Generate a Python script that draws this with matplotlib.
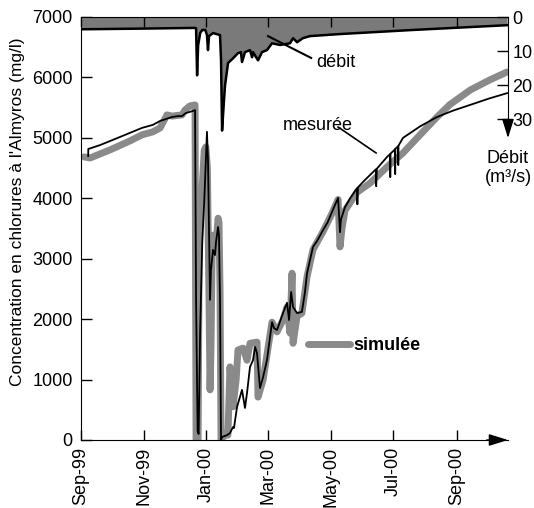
import matplotlib.pyplot as plt
import matplotlib.dates as mdates
import matplotlib.transforms as mtransforms
import numpy as np
import pandas as pd

plt.rcParams['font.family'] = ['Liberation Sans', 'DejaVu Sans']
plt.rcParams['font.size'] = 13

# jours depuis le 1er septembre 1999
mes_jours = [7.0, 7.1, 18.5, 38, 59.4, 70, 77, 88.6, 94.4, 98.3, 102, 109, 111,
             112, 113.5, 114.5, 116, 118, 120, 122.6, 123.6, 125.6, 126.5, 128.5,
             130.4, 131.4, 133.4, 134.3, 135.3, 136.3, 137.3, 142.1, 145, 148,
             148.9, 151.9, 153.8, 156.7, 159.6, 161.6, 164.5, 167.4, 169.4, 171.3,
             174.2, 177.2, 181, 185.9, 187.9, 190.8, 196.6, 200.5, 202.5, 204.5,
             206.4, 210.3, 215, 218, 220, 225.8, 230, 235.6, 240, 244.3, 250.2,
             252.1, 253, 257, 262, 268.7, 269, 269.5, 275, 281.3, 287, 287.3, 288,
             297.9, 300.8, 301, 301.3, 305.6, 305.8, 306, 308.6, 308.8, 309, 313.4,
             330, 346.5, 362, 378.7, 397, 414.7]
mes_conc = [4700, 4816, 4880, 5015, 5165, 5215, 5280, 5345, 5360, 5360, 5410, 5445, 5460,
            2320, 150, 100, 1820, 3260, 3970, 5100, 4630, 2320, 2810, 3145,
            3060, 3275, 3525, 3390, 2320, 0, 50, 80, 115, 215,
            200, 550, 660, 830, 530, 780, 1210, 1320, 1540, 1440,
            860, 1040, 1320, 1950, 1850, 1820, 2100, 2270, 1985, 2450,
            2200, 2100, 2120, 2450, 2760, 3195, 3300, 3475, 3600, 3775, 4005,
            3440, 3650, 3855, 4000, 4170, 3900, 4180, 4280, 4385, 4480, 4200, 4490,
            4685, 4730, 4350, 4740, 4810, 4400, 4820, 4860, 4550, 4870, 5000,
            5190, 5345, 5450, 5545, 5650, 5740]

sim_jours = [2.9, 8.8, 28.2, 47.7, 59.4, 70, 77, 83.7, 88.6, 98.3, 101.2, 106, 111,
             112, 114, 115, 116, 118, 120, 121.5, 123, 124.5, 125.6, 126.5, 127.5,
             128.5, 130.4, 132, 133.4, 134.3, 135.3, 136.3, 141, 143, 145, 148, 151,
             152.8, 157.7, 161.6, 164.5, 171.3, 172.3, 177.2, 185.9, 190.8, 196.6,
             200.5, 203.4, 205.4, 206.4, 210.3, 215, 220, 225.8, 235.6, 244.3, 250.2,
             252.1, 254, 257, 268.7, 281.3, 297.9, 313.4, 330, 346.5, 359, 378.7,
             398, 414.7]
sim_conc = [4685, 4667, 4800, 4950, 5050, 5100, 5165, 5380, 5360, 5380, 5460, 5528, 5545,
            0, 0, 3310, 3900, 4200, 4800, 4850, 4500, 2500, 830, 1500, 3000,
            3390, 3190, 3350, 3670, 3600, 2500, 0, 100, 80, 1210, 550, 1000,
            1490, 1520, 1320, 1600, 1620, 710, 990, 1950, 1790, 1985,
            2200, 1770, 2760, 1600, 2050, 2100, 2700, 3150, 3450, 3750, 3980,
            3195, 3500, 3800, 4100, 4250, 4520, 4750, 5050, 5345, 5550, 5790,
            5960, 6090]

deb_jours = [0, 60, 111, 112, 113, 114, 116, 118, 121, 122.6, 123.6, 124.6, 128.5,
             135.3, 136.3, 137.3, 139.2, 140.2, 143.1, 148, 152.8, 155.7, 156.7,
             159.6, 164.5, 166.5, 167.4, 172.3, 176.2, 181, 185.9, 193.7, 203.4,
             206.4, 210.3, 216, 222.9, 252, 323, 414.7]
debit = [3.6, 3.4, 3.2, 3.3, 17.1, 8.3, 4.7, 3.8, 3.8, 5.3, 9.7, 5.6, 4.7,
         5.3, 12.7, 33.3, 24.3, 20.0, 13.5, 12.1, 10.6, 10.3, 13.2,
         10.3, 9.7, 11.8, 10.3, 12.7, 10.3, 9.7, 7.7, 8.2, 7.7,
         6.2, 7.4, 6.2, 5.6, 5.0, 3.8, 2.4]

debut = pd.Timestamp('1999-09-01')


def dates(j):
    return debut + pd.to_timedelta(np.asarray(j, dtype=float), unit='D')


gris = '#8a8a8a'
fleche = dict(arrowstyle='-|>,head_length=0.9,head_width=0.28',
              color='black', lw=1, shrinkA=0, shrinkB=0)

fig = plt.figure(figsize=(5.34, 5.08), dpi=100)
ax = fig.add_axes([81 / 534, 68 / 508, 427 / 534, 423 / 508])

ax.plot(dates(sim_jours), sim_conc, color=gris, lw=5, solid_joinstyle='round',
        solid_capstyle='round', zorder=2)
ax.plot(dates(mes_jours), mes_conc, color='black', lw=1.3, zorder=3)

ax.set_xlim(debut, debut + pd.Timedelta(days=415.6))
ax.set_ylim(0, 7000)
ax.set_yticks(range(0, 7001, 1000))
ax.xaxis.set_major_locator(mdates.MonthLocator(bymonth=[1, 3, 5, 7, 9, 11]))
ax.xaxis.set_major_formatter(mdates.DateFormatter('%b-%y'))
ax.tick_params(axis='x', direction='in', length=7, width=1, rotation=90, pad=5)
ax.tick_params(axis='y', direction='in', length=8, width=1, pad=6)
ax.spines['right'].set_visible(False)
ax.spines['top'].set_visible(False)
ax.annotate('', xy=(1.0, 0), xytext=(0.95, 0), xycoords='axes fraction',
            arrowprops=fleche, annotation_clip=False)
ax.set_ylabel("Concentration en chlorures à l'Almyros (mg/l)", fontsize=12.5)
ax.yaxis.set_label_coords(-0.13, 0.539)

# débit, axe inversé à droite
ax2 = ax.twinx()
ax2.fill_between(dates(deb_jours), 0, debit, color='#7a7a7a', lw=0)
ax2.plot(dates(deb_jours), debit, color='black', lw=1.8)
ax2.set_ylim(124, 0)
ax2.set_yticks([0, 10, 20, 30])
ax2.tick_params(axis='y', direction='in', length=8, width=1, pad=3)
ax2.xaxis.set_visible(True)
ax2.tick_params(axis='x', top=True, bottom=False, labeltop=False, labelbottom=False,
                direction='in', length=7, width=1)
for s in ['left', 'bottom']:
    ax2.spines[s].set_visible(False)
ax2.spines['right'].set_bounds(0, 31)
ax2.annotate('', xy=(1.0, 35.5), xytext=(1.0, 30),
             xycoords=('axes fraction', 'data'),
             arrowprops=fleche, annotation_clip=False)
bt = mtransforms.blended_transform_factory(ax2.transAxes, ax2.transData)
ax2.text(1.0, 39, 'Débit\n(m³/s)', transform=bt, ha='center', va='top',
         linespacing=1.15)

# étiquettes des courbes
j = lambda d: debut + pd.Timedelta(days=d)
ax2.plot([j(182), j(224)], [5.6, 12.0], color='black', lw=1.5)
ax2.text(j(228.7), 13.2, 'débit', ha='left', va='center')
ax.plot([j(250.2), j(287.2)], [5180, 4750], color='black', lw=1.2)
ax.text(j(196.6), 5197, 'mesurée', ha='left', va='center')
ax.plot([j(221), j(261.8)], [1590, 1590], color=gris, lw=5, solid_capstyle='round')
ax.text(j(264.8), 1572, 'simulée', fontweight='bold', ha='left', va='center')

fig.savefig('out.png', dpi=100)
